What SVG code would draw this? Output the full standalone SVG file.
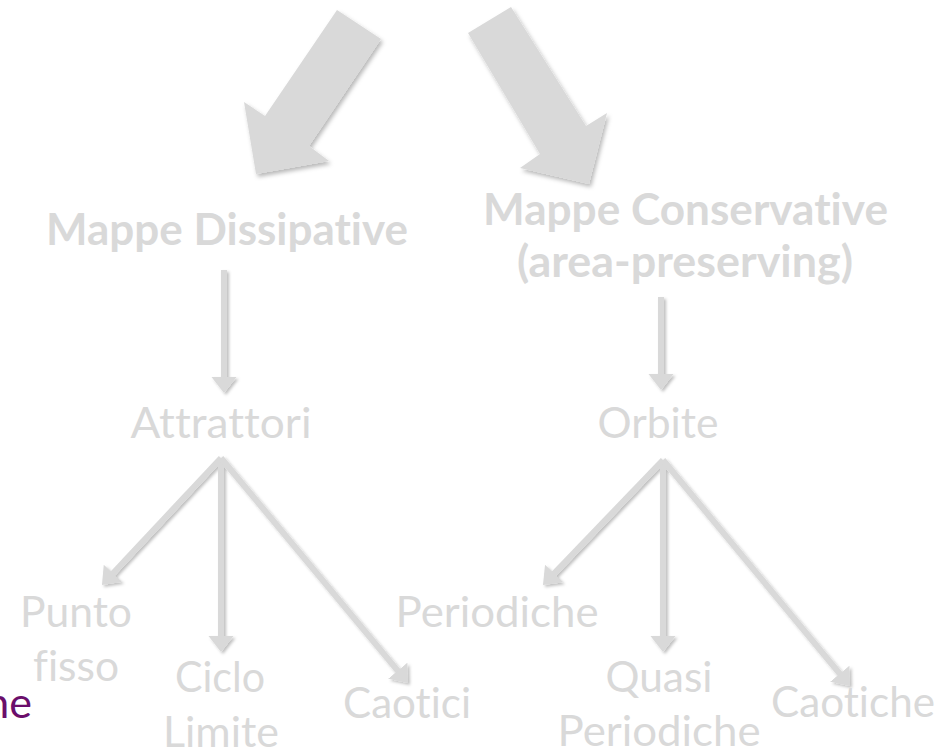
<svg xmlns="http://www.w3.org/2000/svg" width="944" height="751" viewBox="0 0 944 751">
<style>
.t{font-family:Lato,"Liberation Sans",sans-serif;font-size:43px;fill:#d9d9d9;text-anchor:middle;font-variant-ligatures:none;font-feature-settings:"liga" 0,"clig" 0}
.b{font-weight:bold}
.p{fill:#6b0e6b;text-anchor:end}
.big{fill:#d9d9d9}
.con line{stroke:#d9d9d9;stroke-width:6;fill:none;marker-end:url(#ah)}
</style>
<defs>
<filter id="sh" x="-20%" y="-20%" width="140%" height="140%">
<feDropShadow dx="2" dy="3" stdDeviation="2" flood-color="#000" flood-opacity="0.28"/>
</filter>
<filter id="sh2" x="-20%" y="-20%" width="140%" height="140%">
<feDropShadow dx="2" dy="2" stdDeviation="1.5" flood-color="#000" flood-opacity="0.25"/>
</filter>
<marker id="ah" markerUnits="userSpaceOnUse" markerWidth="18" markerHeight="26" refX="6" refY="12.5" orient="auto">
<path d="M0,0 L16,12.5 L0,25 z" fill="#d9d9d9"/>
</marker>
</defs>
<g id="bigArrows" filter="url(#sh)">
<polygon class="big" points="337,10 381,39 309,146 329,161 256,174 244,102 265,116"/>
<polygon class="big" points="468,33 511,7 586,126 607,113 589,184 520,168 540,154"/>
</g>
<g id="connectors" class="con" filter="url(#sh2)">
<line x1="224" y1="270" x2="224" y2="383"/>
<line x1="661" y1="297" x2="661" y2="380"/>
<line x1="221" y1="458" x2="108.8" y2="577.7"/>
<line x1="221" y1="458" x2="221" y2="642"/>
<line x1="221" y1="458" x2="401.6" y2="675.3"/>
<line x1="663" y1="460" x2="549.9" y2="577.8"/>
<line x1="663" y1="460" x2="663" y2="642"/>
<line x1="663" y1="460" x2="843.6" y2="678.3"/>
</g>
<g id="dissipative"><text class="t b" x="227" y="245" textLength="362" lengthAdjust="spacingAndGlyphs">Mappe Dissipative</text></g>
<g id="conservative">
<text class="t b" x="685.5" y="225" textLength="405" lengthAdjust="spacingAndGlyphs">Mappe Conservative</text>
<text class="t b" x="685" y="277" textLength="336" lengthAdjust="spacingAndGlyphs">(area-preserving)</text>
</g>
<g id="attrattori"><text class="t" x="221" y="438" textLength="181" lengthAdjust="spacingAndGlyphs">Attrattori</text></g>
<g id="orbite"><text class="t" x="658" y="438" textLength="121" lengthAdjust="spacingAndGlyphs">Orbite</text></g>
<g id="puntofisso">
<text class="t" x="76" y="627" textLength="112" lengthAdjust="spacingAndGlyphs">Punto</text>
<text class="t" x="76" y="681" textLength="86" lengthAdjust="spacingAndGlyphs">fisso</text>
</g>
<g id="ciclolimite">
<text class="t" x="220" y="692" textLength="90" lengthAdjust="spacingAndGlyphs">Ciclo</text>
<text class="t" x="221" y="747" textLength="116" lengthAdjust="spacingAndGlyphs">Limite</text>
</g>
<g id="caotici"><text class="t" x="407" y="718" textLength="128" lengthAdjust="spacingAndGlyphs">Caotici</text></g>
<g id="periodiche"><text class="t" x="497" y="627" textLength="203" lengthAdjust="spacingAndGlyphs">Periodiche</text></g>
<g id="quasiperiodiche">
<text class="t" x="659" y="692" textLength="107" lengthAdjust="spacingAndGlyphs">Quasi</text>
<text class="t" x="659" y="746" textLength="203" lengthAdjust="spacingAndGlyphs">Periodiche</text>
</g>
<g id="caotiche"><text class="t" x="853" y="717" textLength="164" lengthAdjust="spacingAndGlyphs">Caotiche</text></g>
<g id="fragment"><text class="t p" x="32" y="718">he</text></g>
</svg>
